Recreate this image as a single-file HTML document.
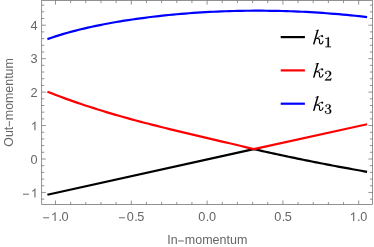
<!DOCTYPE html>
<html><head><meta charset="utf-8"><title>plot</title>
<style>
html,body{margin:0;padding:0;background:#fff;}
body{width:374px;height:247px;overflow:hidden;font-family:"Liberation Sans",sans-serif;}
svg{display:block;will-change:transform;transform:translateZ(0);}
</style></head>
<body>
<svg width="374" height="247" viewBox="0 0 374 247">
<rect x="0" y="0" width="374" height="247" fill="#fff"/>
<g fill="none" stroke-width="2.2" stroke-linejoin="round" stroke-linecap="butt" transform="translate(0,0)">
<polyline points="47.40,194.74 253.80,149.10 253.80,149.10 256.71,149.76 259.61,150.41 262.52,151.06 265.42,151.70 268.33,152.35 271.23,152.98 274.14,153.62 277.04,154.25 279.95,154.87 282.85,155.50 285.76,156.11 288.66,156.73 291.57,157.34 294.47,157.95 297.38,158.55 300.28,159.15 303.19,159.74 306.09,160.33 309.00,160.92 311.90,161.50 314.81,162.08 317.71,162.65 320.62,163.22 323.52,163.79 326.43,164.35 329.33,164.91 332.24,165.46 335.14,166.01 338.05,166.56 340.95,167.10 343.86,167.64 346.76,168.17 349.67,168.70 352.57,169.23 355.48,169.76 358.38,170.27 361.29,170.79 364.19,171.30 367.10,171.81" stroke="#000"/>
<polyline points="47.40,91.70 51.61,93.35 55.82,94.97 60.04,96.56 64.25,98.11 68.46,99.64 72.67,101.13 76.89,102.59 81.10,104.02 85.31,105.43 89.52,106.81 93.73,108.16 97.95,109.49 102.16,110.79 106.37,112.08 110.58,113.33 114.80,114.57 119.01,115.79 123.22,116.98 127.43,118.16 131.64,119.32 135.86,120.46 140.07,121.59 144.28,122.70 148.49,123.79 152.71,124.87 156.92,125.94 161.13,127.00 165.34,128.05 169.56,129.09 173.77,130.11 177.98,131.13 182.19,132.14 186.40,133.15 190.62,134.15 194.83,135.14 199.04,136.13 203.25,137.12 207.47,138.11 211.68,139.10 215.89,140.09 220.10,141.07 224.31,142.06 228.53,143.05 232.74,144.05 236.95,145.05 241.16,146.05 245.38,147.06 249.59,148.07 253.80,149.10 253.80,149.10 367.10,124.20" stroke="#f00"/>
<polyline points="47.40,39.09 51.45,37.69 55.49,36.36 59.54,35.10 63.59,33.89 67.63,32.73 71.68,31.63 75.73,30.57 79.77,29.55 83.82,28.58 87.87,27.64 91.92,26.75 95.96,25.88 100.01,25.06 104.06,24.26 108.10,23.49 112.15,22.75 116.20,22.04 120.24,21.36 124.29,20.71 128.34,20.08 132.38,19.47 136.43,18.89 140.48,18.33 144.52,17.79 148.57,17.27 152.62,16.78 156.66,16.31 160.71,15.86 164.76,15.42 168.81,15.01 172.85,14.62 176.90,14.25 180.95,13.90 184.99,13.56 189.04,13.25 193.09,12.96 197.13,12.68 201.18,12.42 205.23,12.18 209.27,11.96 213.32,11.76 217.37,11.57 221.41,11.40 225.46,11.25 229.51,11.12 233.55,11.01 237.60,10.91 241.65,10.84 245.69,10.77 249.74,10.73 253.79,10.71 257.84,10.70 261.88,10.71 265.93,10.73 269.98,10.78 274.02,10.84 278.07,10.92 282.12,11.02 286.16,11.13 290.21,11.26 294.26,11.41 298.30,11.58 302.35,11.76 306.40,11.96 310.44,12.18 314.49,12.42 318.54,12.67 322.58,12.94 326.63,13.23 330.68,13.53 334.73,13.85 338.77,14.19 342.82,14.55 346.87,14.92 350.91,15.31 354.96,15.72 359.01,16.15 363.05,16.59 367.10,17.05" stroke="#00f"/>
</g>
<g stroke="#666666" stroke-width="0.7" fill="none">
<rect x="41.7" y="0.5" width="330.8" height="204.1"/>
<path d="M55.50,204.6v-4.1M55.50,0.5v4.1M70.66,204.6v-2.6M70.66,0.5v2.6M85.82,204.6v-2.6M85.82,0.5v2.6M100.98,204.6v-2.6M100.98,0.5v2.6M116.14,204.6v-2.6M116.14,0.5v2.6M131.30,204.6v-4.1M131.30,0.5v4.1M146.46,204.6v-2.6M146.46,0.5v2.6M161.62,204.6v-2.6M161.62,0.5v2.6M176.78,204.6v-2.6M176.78,0.5v2.6M191.94,204.6v-2.6M191.94,0.5v2.6M207.10,204.6v-4.1M207.10,0.5v4.1M222.26,204.6v-2.6M222.26,0.5v2.6M237.42,204.6v-2.6M237.42,0.5v2.6M252.58,204.6v-2.6M252.58,0.5v2.6M267.74,204.6v-2.6M267.74,0.5v2.6M282.90,204.6v-4.1M282.90,0.5v4.1M298.06,204.6v-2.6M298.06,0.5v2.6M313.22,204.6v-2.6M313.22,0.5v2.6M328.38,204.6v-2.6M328.38,0.5v2.6M343.54,204.6v-2.6M343.54,0.5v2.6M358.70,204.6v-4.1M358.70,0.5v4.1M41.7,199.14h2.6M372.5,199.14h-2.6M41.7,192.45h4.1M372.5,192.45h-4.1M41.7,185.76h2.6M372.5,185.76h-2.6M41.7,179.07h2.6M372.5,179.07h-2.6M41.7,172.38h2.6M372.5,172.38h-2.6M41.7,165.69h2.6M372.5,165.69h-2.6M41.7,159.00h4.1M372.5,159.00h-4.1M41.7,152.31h2.6M372.5,152.31h-2.6M41.7,145.62h2.6M372.5,145.62h-2.6M41.7,138.93h2.6M372.5,138.93h-2.6M41.7,132.24h2.6M372.5,132.24h-2.6M41.7,125.55h4.1M372.5,125.55h-4.1M41.7,118.86h2.6M372.5,118.86h-2.6M41.7,112.17h2.6M372.5,112.17h-2.6M41.7,105.48h2.6M372.5,105.48h-2.6M41.7,98.79h2.6M372.5,98.79h-2.6M41.7,92.10h4.1M372.5,92.10h-4.1M41.7,85.41h2.6M372.5,85.41h-2.6M41.7,78.72h2.6M372.5,78.72h-2.6M41.7,72.03h2.6M372.5,72.03h-2.6M41.7,65.34h2.6M372.5,65.34h-2.6M41.7,58.65h4.1M372.5,58.65h-4.1M41.7,51.96h2.6M372.5,51.96h-2.6M41.7,45.27h2.6M372.5,45.27h-2.6M41.7,38.58h2.6M372.5,38.58h-2.6M41.7,31.89h2.6M372.5,31.89h-2.6M41.7,25.20h4.1M372.5,25.20h-4.1M41.7,18.51h2.6M372.5,18.51h-2.6M41.7,11.82h2.6M372.5,11.82h-2.6M41.7,5.13h2.6M372.5,5.13h-2.6"/>
</g>
<g font-family="Liberation Sans, sans-serif" font-size="12.3" fill="#666666">
<g transform="translate(41.99,221.00) scale(1.035,1)"><rect x="1.11" y="-3.69" width="5.78" height="0.96"/><path transform="translate(8.61,0) scale(12.3)" d="M0.3726,0 L0.2847,0 L0.2847,-0.5601 Q0.2529,-0.5298 0.2014,-0.4995 Q0.1499,-0.4692 0.1089,-0.4541 L0.1089,-0.5391 Q0.1826,-0.5737 0.2378,-0.6230 Q0.2930,-0.6724 0.3159,-0.7188 L0.3726,-0.7188 Z"/><text x="15.88" y="0">.</text><text x="18.87" y="0">0</text></g>
<g transform="translate(117.79,221.00) scale(1.035,1)"><rect x="1.11" y="-3.69" width="5.78" height="0.96"/><text x="8.61" y="0">0</text><text x="15.88" y="0">.</text><text x="18.87" y="0">5</text></g>
<g transform="translate(198.35,221.00) scale(1.035,1)"><text x="0.00" y="0">0</text><text x="7.27" y="0">.</text><text x="10.26" y="0">0</text></g>
<g transform="translate(274.15,221.00) scale(1.035,1)"><text x="0.00" y="0">0</text><text x="7.27" y="0">.</text><text x="10.26" y="0">5</text></g>
<g transform="translate(349.53,221.00) scale(1.035,1)"><path transform="translate(0.00,0) scale(12.3)" d="M0.3726,0 L0.2847,0 L0.2847,-0.5601 Q0.2529,-0.5298 0.2014,-0.4995 Q0.1499,-0.4692 0.1089,-0.4541 L0.1089,-0.5391 Q0.1826,-0.5737 0.2378,-0.6230 Q0.2930,-0.6724 0.3159,-0.7188 L0.3726,-0.7188 Z"/><text x="7.27" y="0">.</text><text x="10.26" y="0">0</text></g>
<g transform="translate(21.84,197.40) scale(1.035,1)"><rect x="1.11" y="-3.69" width="5.78" height="0.96"/><path transform="translate(8.61,0) scale(12.3)" d="M0.3726,0 L0.2847,0 L0.2847,-0.5601 Q0.2529,-0.5298 0.2014,-0.4995 Q0.1499,-0.4692 0.1089,-0.4541 L0.1089,-0.5391 Q0.1826,-0.5737 0.2378,-0.6230 Q0.2930,-0.6724 0.3159,-0.7188 L0.3726,-0.7188 Z"/></g>
<g transform="translate(30.46,163.88) scale(1.035,1)"><text x="0.00" y="0">0</text></g>
<g transform="translate(30.75,130.36) scale(1.035,1)"><path transform="translate(0.00,0) scale(12.3)" d="M0.3726,0 L0.2847,0 L0.2847,-0.5601 Q0.2529,-0.5298 0.2014,-0.4995 Q0.1499,-0.4692 0.1089,-0.4541 L0.1089,-0.5391 Q0.1826,-0.5737 0.2378,-0.6230 Q0.2930,-0.6724 0.3159,-0.7188 L0.3726,-0.7188 Z"/></g>
<g transform="translate(30.46,96.84) scale(1.035,1)"><text x="0.00" y="0">2</text></g>
<g transform="translate(30.46,63.32) scale(1.035,1)"><text x="0.00" y="0">3</text></g>
<g transform="translate(30.46,29.80) scale(1.035,1)"><text x="0.00" y="0">4</text></g>
<text x="167.2" y="244.0" font-size="12.4">In</text>
<rect x="178.05" y="240.50" width="5.75" height="0.95"/>
<text x="184.8" y="244.0" font-size="12.5">momentum</text>
<g transform="translate(12.7,0) rotate(-90)">
<text x="-146.7" y="0" font-size="12.4">Out</text>
<rect x="-126.5" y="-3.85" width="5.4" height="0.95"/>
<text x="-120.2" y="0" font-size="12.4">momentum</text>
</g>
</g>
<line x1="280.7" y1="37.1" x2="304.9" y2="37.1" stroke="#000" stroke-width="2.2"/>
<g transform="translate(312.4,44.25) scale(21)"><path d="M0.225,-0.694 L0.298,-0.694 L0.100,0 L0.028,0 Z"/><path d="M0.14,-0.66 L0.298,-0.694 L0.285,-0.645 L0.14,-0.637 Z"/><path d="M0.028,0 Q0.048,0.012 0.068,0.01 Q0.093,0.008 0.100,0 Z"/><path d="M0.13,-0.245 C0.27,-0.27 0.35,-0.42 0.46,-0.425" fill="none" stroke="#000" stroke-width="0.033" stroke-linecap="round"/><circle cx="0.47" cy="-0.385" r="0.048"/><path d="M0.215,-0.285 C0.31,-0.275 0.35,-0.24 0.34,-0.16 C0.33,-0.09 0.335,-0.02 0.395,-0.015 C0.445,-0.012 0.485,-0.07 0.505,-0.14" fill="none" stroke="#000" stroke-width="0.055" stroke-linecap="round"/></g>
<g transform="translate(323.9,47.15) scale(17.0,14.9)" stroke="#000" stroke-width="0.014" stroke-linejoin="round"><path d="M0.215,-0.60 L0.215,-0.03 L0.295,-0.03 L0.295,-0.665 L0.265,-0.665 C0.22,-0.62 0.16,-0.60 0.09,-0.60 L0.09,-0.565 C0.14,-0.565 0.185,-0.575 0.215,-0.60 Z"/><path d="M0.09,0 L0.42,0 L0.42,-0.035 L0.09,-0.035 Z"/></g>
<line x1="280.7" y1="70.4" x2="304.9" y2="70.4" stroke="#f00" stroke-width="2.2"/>
<g transform="translate(312.4,77.55) scale(21)"><path d="M0.225,-0.694 L0.298,-0.694 L0.100,0 L0.028,0 Z"/><path d="M0.14,-0.66 L0.298,-0.694 L0.285,-0.645 L0.14,-0.637 Z"/><path d="M0.028,0 Q0.048,0.012 0.068,0.01 Q0.093,0.008 0.100,0 Z"/><path d="M0.13,-0.245 C0.27,-0.27 0.35,-0.42 0.46,-0.425" fill="none" stroke="#000" stroke-width="0.033" stroke-linecap="round"/><circle cx="0.47" cy="-0.385" r="0.048"/><path d="M0.215,-0.285 C0.31,-0.275 0.35,-0.24 0.34,-0.16 C0.33,-0.09 0.335,-0.02 0.395,-0.015 C0.445,-0.012 0.485,-0.07 0.505,-0.14" fill="none" stroke="#000" stroke-width="0.055" stroke-linecap="round"/></g>
<g transform="translate(323.9,80.45) scale(17.0,14.9)" stroke="#000" stroke-width="0.014" stroke-linejoin="round"><path d="M0.075,-0.49 C0.085,-0.60 0.16,-0.645 0.245,-0.645 C0.35,-0.645 0.43,-0.575 0.43,-0.47 C0.43,-0.37 0.35,-0.30 0.25,-0.21 L0.12,-0.085 L0.33,-0.085 C0.385,-0.085 0.40,-0.10 0.41,-0.17 L0.44,-0.17 L0.415,0 L0.06,0 L0.06,-0.03 L0.235,-0.235 C0.30,-0.31 0.335,-0.39 0.335,-0.47 C0.335,-0.56 0.29,-0.61 0.225,-0.61 C0.17,-0.61 0.13,-0.575 0.12,-0.53 C0.15,-0.53 0.165,-0.51 0.165,-0.485 C0.165,-0.455 0.145,-0.435 0.118,-0.435 C0.09,-0.435 0.072,-0.455 0.075,-0.49 Z"/></g>
<line x1="280.7" y1="103.7" x2="304.9" y2="103.7" stroke="#00f" stroke-width="2.2"/>
<g transform="translate(312.4,110.85) scale(21)"><path d="M0.225,-0.694 L0.298,-0.694 L0.100,0 L0.028,0 Z"/><path d="M0.14,-0.66 L0.298,-0.694 L0.285,-0.645 L0.14,-0.637 Z"/><path d="M0.028,0 Q0.048,0.012 0.068,0.01 Q0.093,0.008 0.100,0 Z"/><path d="M0.13,-0.245 C0.27,-0.27 0.35,-0.42 0.46,-0.425" fill="none" stroke="#000" stroke-width="0.033" stroke-linecap="round"/><circle cx="0.47" cy="-0.385" r="0.048"/><path d="M0.215,-0.285 C0.31,-0.275 0.35,-0.24 0.34,-0.16 C0.33,-0.09 0.335,-0.02 0.395,-0.015 C0.445,-0.012 0.485,-0.07 0.505,-0.14" fill="none" stroke="#000" stroke-width="0.055" stroke-linecap="round"/></g>
<g transform="translate(323.9,113.75) scale(17.0,14.9)" stroke="#000" stroke-width="0.014" stroke-linejoin="round"><path d="M0.09,-0.53 C0.11,-0.60 0.17,-0.645 0.245,-0.645 C0.34,-0.645 0.405,-0.59 0.405,-0.51 C0.405,-0.43 0.35,-0.375 0.28,-0.35 C0.37,-0.33 0.435,-0.265 0.435,-0.175 C0.435,-0.065 0.35,0.015 0.245,0.015 C0.14,0.015 0.06,-0.045 0.055,-0.13 C0.053,-0.165 0.075,-0.185 0.102,-0.185 C0.13,-0.185 0.15,-0.165 0.15,-0.138 C0.15,-0.11 0.13,-0.09 0.105,-0.09 C0.13,-0.045 0.185,-0.02 0.24,-0.02 C0.31,-0.02 0.34,-0.09 0.34,-0.175 C0.34,-0.27 0.30,-0.33 0.225,-0.33 L0.175,-0.33 L0.175,-0.36 C0.215,-0.362 0.24,-0.365 0.265,-0.385 C0.30,-0.415 0.315,-0.46 0.315,-0.51 C0.315,-0.575 0.285,-0.615 0.24,-0.615 C0.195,-0.615 0.155,-0.595 0.135,-0.56 C0.16,-0.56 0.177,-0.542 0.177,-0.518 C0.177,-0.492 0.158,-0.475 0.133,-0.475 C0.105,-0.475 0.085,-0.495 0.09,-0.53 Z"/></g>
</svg>
</body></html>
